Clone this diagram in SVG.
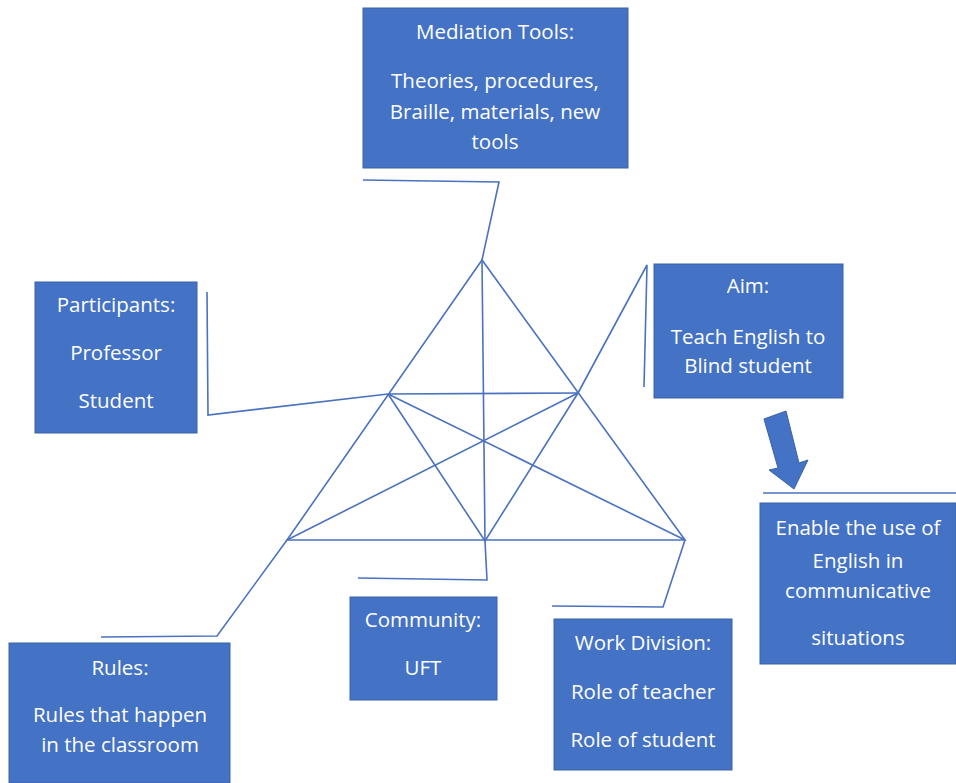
<svg xmlns="http://www.w3.org/2000/svg" width="956" height="783" viewBox="0 0 956 783">
<style>
.box{fill:#4472C4;stroke:#3A62A8;stroke-width:1}
.t{font-family:"Open Sans","Liberation Sans",Arial,sans-serif;font-size:20.5px;fill:#ffffff;text-anchor:middle}
.ln{fill:none;stroke:#4A72BE;stroke-width:1.6;stroke-linejoin:miter}
</style>
<rect width="956" height="783" fill="#ffffff"/>
<g id="connectors">
<path class="ln" d="M482,260 L287,540 L685,540 Z"/>
<path class="ln" d="M482,260 L485,541"/>
<path class="ln" d="M388,394 L578,393"/>
<path class="ln" d="M388,394 L485,541 L578,393"/>
<path class="ln" d="M388,394 L685,540"/>
<path class="ln" d="M578,393 L287,540"/>
<path class="ln" d="M363,180 L499,182 L482,260"/>
<path class="ln" d="M578,393 L647,265 L644,387"/>
<path class="ln" d="M388,394 L208,415 L207,292"/>
<path class="ln" d="M287,540 L217,636 L101,637"/>
<path class="ln" d="M485,541 L487,580 L358,578"/>
<path class="ln" d="M685,540 L663,607 L552,606"/>
<path class="ln" d="M763,493 L956,493"/>
<polygon fill="#4472C4" stroke="#3A62A8" stroke-width="1" points="764,419 786,411 799,463 808,460 794,489 769,470 778,468"/>
</g>
<g id="mediation">
<rect class="box" x="363" y="8" width="265" height="160"/>
<text class="t" x="495" y="39">Mediation Tools:</text>
<text class="t" x="495" y="88">Theories, procedures,</text>
<text class="t" x="495" y="119">Braille, materials, new</text>
<text class="t" x="495" y="149">tools</text>
</g>
<g id="participants">
<rect class="box" x="35" y="282" width="162" height="151"/>
<text class="t" x="116" y="312">Participants:</text>
<text class="t" x="116" y="360">Professor</text>
<text class="t" x="116" y="408">Student</text>
</g>
<g id="aim">
<rect class="box" x="654" y="264" width="189" height="134"/>
<text class="t" x="748" y="293">Aim:</text>
<text class="t" x="748" y="344">Teach English to</text>
<text class="t" x="748" y="373">Blind student</text>
</g>
<g id="enable">
<rect class="box" x="760" y="503" width="196" height="161"/>
<text class="t" x="858" y="535">Enable the use of</text>
<text class="t" x="858" y="568">English in</text>
<text class="t" x="858" y="598">communicative</text>
<text class="t" x="858" y="645">situations</text>
</g>
<g id="rules">
<rect class="box" x="9" y="643" width="221" height="140"/>
<text class="t" x="120" y="675">Rules:</text>
<text class="t" x="120" y="722">Rules that happen</text>
<text class="t" x="120" y="752">in the classroom</text>
</g>
<g id="community">
<rect class="box" x="350" y="597" width="147" height="103"/>
<text class="t" x="423" y="627">Community:</text>
<text class="t" x="423" y="675">UFT</text>
</g>
<g id="workdivision">
<rect class="box" x="554" y="619" width="178" height="151"/>
<text class="t" x="643" y="650">Work Division:</text>
<text class="t" x="643" y="699">Role of teacher</text>
<text class="t" x="643" y="747">Role of student</text>
</g>
</svg>
